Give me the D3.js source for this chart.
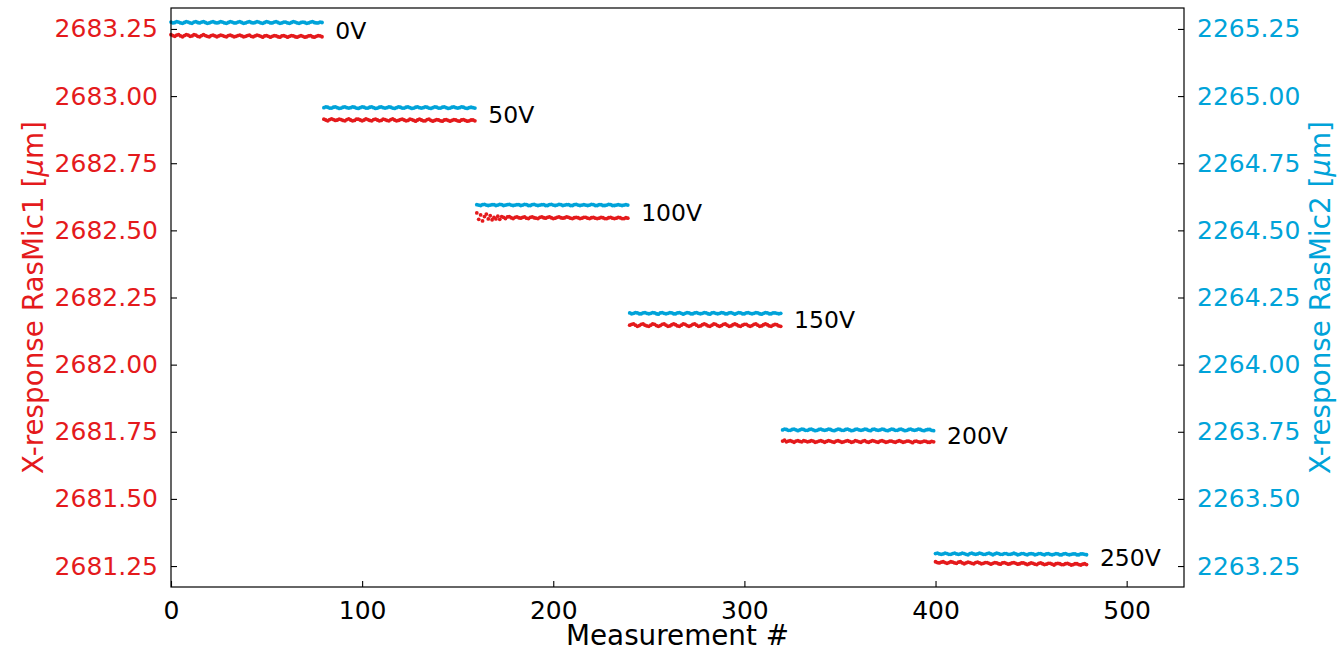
<!DOCTYPE html>
<html>
<head>
<meta charset="utf-8">
<script src="https://cdn.jsdelivr.net/npm/d3@7"></script>
<style>
  html, body { margin: 0; padding: 0; background: #ffffff; }
  svg { display: block; font-family: "DejaVu Sans", sans-serif; }
</style>
</head>
<body>
<svg id="chart" width="1339" height="653"></svg>
<script>
// ---- data ----
const voltageLabels = ["0V", "50V", "100V", "150V", "200V", "250V"];
const pointsPerStep = 80;
// mean level for each voltage step (micrometre)
const redBase  = [2683.224, 2682.911, 2682.547, 2682.147, 2681.714, 2681.260];
const blueBase = [2265.274, 2264.957, 2264.594, 2264.191, 2263.757, 2263.295];
// size of one deviation step in the arrays below (micrometre)
const devUnit = 0.0015;
// per-measurement deviations from the step level, RasMic1
const red0 = [3,1,-1,2,3,0,-2,1,3,2,-1,0,3,2,-1,-2,1,3,1,-1,-2,1,2,0,-2,0,2,1,-1,-2,1,2,0,-2,-1,1,2,0,-2,-1,1,2,-1,-2,0,2,1,-1,-3,0,1,-1,-3,-1,1,0,-2,-3,0,1,-1,-3,-1,1,0,-2,-3,-1,1,-1,-3,-2,0,1,-2,-3,-1,1,0,-2];
const red1 = [2,0,-2,1,3,1,-1,0,2,1,-1,-2,1,3,0,-2,-1,2,2,0,-2,0,3,1,-1,-2,1,2,0,-2,-1,2,1,-1,-2,1,3,0,-2,-1,1,2,0,-2,-1,2,1,-1,-3,0,2,0,-2,-2,1,2,-1,-3,-1,1,0,-2,-3,0,1,-1,-3,-1,1,0,-2,-3,0,1,-1,-3,-2,0,0,-2];
const red2 = [12,-4,7,-8,3,9,-3,5,-5,1,-3,4,-4,3,1,-2,2,3,0,-2,1,2,0,-1,1,2,-1,-2,1,2,0,-1,-2,1,2,0,-1,1,2,0,-2,-1,1,2,0,-1,0,2,1,-1,-2,0,1,0,-2,-1,1,1,-1,-2,0,1,-1,-2,-1,1,0,-2,-2,0,1,-1,-2,-1,1,0,-2,-2,0,-1];
const red3 = [0,2,3,0,-3,-1,2,3,0,-2,-3,0,3,2,-1,-3,-1,2,3,0,-3,-2,1,3,1,-2,-3,0,3,2,-1,-3,-1,2,3,0,-3,-2,1,3,1,-2,-3,0,3,2,-1,-3,-1,2,3,0,-3,-2,1,3,1,-2,-3,0,2,2,-1,-3,-1,2,3,0,-3,-2,1,3,1,-2,-3,0,2,1,-2,-3];
const red4 = [1,3,-1,1,2,0,-2,1,2,0,-1,2,1,-1,0,2,1,-2,-1,1,2,0,-2,0,2,1,-1,-2,1,2,0,-2,-1,1,2,0,-2,-1,2,1,-1,-2,1,2,-1,-2,0,2,1,-1,-2,1,2,0,-2,-1,1,1,-1,-2,0,2,0,-2,-1,1,1,-1,-3,0,1,-1,-2,-1,1,0,-2,-2,0,-1];
const red5 = [4,2,1,3,4,2,0,2,4,3,1,0,3,4,1,-1,1,3,2,0,-1,2,3,1,-1,0,2,2,0,-2,0,2,1,-1,-2,1,2,0,-2,-1,1,2,0,-2,-1,1,1,-1,-3,-1,1,0,-2,-3,0,1,-1,-3,-2,0,0,-2,-4,-1,0,-1,-3,-3,-1,0,-2,-4,-3,-1,-1,-3,-4,-2,-1,-3];
// per-measurement deviations from the step level, RasMic2
const blue0 = [1,-1,0,2,1,-1,-2,0,2,1,-1,-2,1,2,0,-1,1,2,0,-2,-1,1,2,0,-1,0,2,1,-1,-2,0,2,1,-1,-1,1,2,0,-2,-1,1,2,0,-1,0,2,1,-1,-2,0,2,1,-1,-1,1,2,0,-2,-1,1,1,-1,-2,0,2,1,-1,-2,0,1,0,-2,-1,1,2,0,-1,-1,1,0];
const blue1 = [0,2,1,-1,-1,1,2,0,-2,-1,1,2,0,-1,0,2,1,-1,-2,0,2,1,-1,-1,1,2,0,-2,-1,1,2,0,-1,0,2,1,-1,-2,0,2,1,-1,-1,1,2,0,-2,-1,1,2,0,-1,0,2,1,-1,-2,0,2,1,-1,-1,1,2,0,-2,-1,1,2,0,-1,0,2,1,-1,-2,0,1,0,-1];
const blue2 = [1,0,-1,1,2,0,-1,0,1,1,-1,0,2,1,-1,0,1,2,0,-1,0,1,1,-1,0,2,1,-1,-1,1,2,0,-1,0,1,1,-1,-1,1,2,0,-1,0,2,1,-1,0,1,1,-1,-1,1,2,0,-1,0,1,0,-1,0,2,1,-1,-1,1,1,-1,-1,0,2,1,-1,-1,0,1,0,-1,0,1,0];
const blue3 = [1,-1,0,2,1,-1,-1,1,2,0,-1,0,2,1,-1,-2,1,2,0,-1,0,2,1,-1,-1,1,2,0,-2,0,2,1,-1,-1,1,2,0,-1,0,2,1,-1,-2,1,2,0,-1,0,2,1,-1,-1,1,2,0,-2,0,2,1,-1,-1,1,2,0,-1,0,2,1,-1,-2,0,2,1,-1,-1,1,1,0,-1,0];
const blue4 = [0,2,1,-1,-1,1,2,0,-2,0,2,1,-1,-1,1,2,0,-2,-1,1,2,0,-1,0,2,1,-1,-2,0,2,1,-1,-1,1,2,0,-2,-1,1,2,0,-1,0,2,1,-1,-2,1,2,0,-1,0,2,1,-1,-2,0,2,1,-1,-1,1,2,0,-2,-1,1,2,0,-1,0,2,1,-1,-2,0,1,1,-1,-2];
const blue5 = [1,2,0,-1,0,2,1,-1,-1,1,2,0,-1,0,2,1,-1,-2,1,2,0,-1,0,2,1,-1,-1,1,2,0,-2,0,2,1,-1,-1,1,1,-1,-1,0,2,0,-2,-1,1,1,-1,-2,0,1,0,-2,-1,1,1,-1,-2,0,1,-1,-2,-1,1,0,-2,-2,0,1,-1,-2,-1,0,0,-2,-2,0,0,-1,-2];
const xTicks = [0, 100, 200, 300, 400, 500];
const leftTicks  = [2681.25, 2681.50, 2681.75, 2682.00, 2682.25, 2682.50, 2682.75, 2683.00, 2683.25];
const rightTicks = [2263.25, 2263.50, 2263.75, 2264.00, 2264.25, 2264.50, 2264.75, 2265.00, 2265.25];

const redDev  = [red0, red1, red2, red3, red4, red5];
const blueDev = [blue0, blue1, blue2, blue3, blue4, blue5];

// ---- build points ----
function build(base, dev) {
  const pts = [];
  base.forEach((b, i) => {
    dev[i].forEach((d, j) => {
      pts.push({ x: i * pointsPerStep + j, v: b + d * devUnit });
    });
  });
  return pts;
}
const redPts = build(redBase, redDev);
const bluePts = build(blueBase, blueDev);

// ---- layout ----
const RED = "#e41a1c", BLUE = "#00a3d9";
const L = 171, R = 1184, T = 8, B = 587;
const FS_TICK = 25, FS_TITLE = 27.8, FS_LBL = 23.5;
const svg = d3.select("#chart");

const x = d3.scaleLinear().domain([0, 530]).range([L, R]);
const yL = d3.scaleLinear().domain([2681.172, 2683.328]).range([B, T]);
const yR = d3.scaleLinear().domain([2263.172, 2265.328]).range([B, T]);

// axes
const gx = svg.append("g").attr("transform", `translate(0,${B})`)
  .call(d3.axisBottom(x).tickValues(xTicks).tickFormat(d3.format("d")).tickSizeInner(-6).tickSizeOuter(0).tickPadding(14));
const gl = svg.append("g").attr("transform", `translate(${L},0)`)
  .call(d3.axisLeft(yL).tickValues(leftTicks).tickFormat(d3.format(".2f")).tickSizeInner(-6).tickSizeOuter(0).tickPadding(13));
const gr = svg.append("g").attr("transform", `translate(${R},0)`)
  .call(d3.axisRight(yR).tickValues(rightTicks).tickFormat(d3.format(".2f")).tickSizeInner(-6).tickSizeOuter(0).tickPadding(13));

[gx, gl, gr].forEach(g => {
  g.select(".domain").remove();
  g.selectAll(".tick line").attr("stroke", "#000").attr("stroke-width", 1.1);
  g.selectAll(".tick text").attr("font-size", FS_TICK).attr("font-family", "DejaVu Sans");
});
gx.selectAll(".tick text").attr("fill", "#000");
gl.selectAll(".tick text").attr("fill", RED);
gr.selectAll(".tick text").attr("fill", BLUE);

// points
svg.append("g").selectAll("circle").data(bluePts).join("circle")
  .attr("cx", d => x(d.x)).attr("cy", d => yR(d.v)).attr("r", 1.9).attr("fill", BLUE);
svg.append("g").selectAll("circle").data(redPts).join("circle")
  .attr("cx", d => x(d.x)).attr("cy", d => yL(d.v)).attr("r", 1.9).attr("fill", RED);

// step labels
svg.append("g").selectAll("text").data(voltageLabels).join("text")
  .attr("x", (d, i) => x(i * pointsPerStep + pointsPerStep - 1 + 7))
  .attr("y", (d, i) => yL(d3.mean(redDev[i], v => redBase[i] + v * devUnit)) + 3)
  .attr("font-size", FS_LBL).attr("fill", "#000")
  .text(d => d);

// frame
svg.append("rect").attr("x", L).attr("y", T).attr("width", R - L).attr("height", B - T)
  .attr("fill", "none").attr("stroke", "#000").attr("stroke-width", 1.2);

// axis titles
svg.append("text").attr("x", (L + R) / 2).attr("y", 645).attr("text-anchor", "middle")
  .attr("font-size", FS_TITLE).attr("fill", "#000").text("Measurement #");

function yTitle(xPos, color, name) {
  const t = svg.append("text").attr("transform", `translate(${xPos},${(T + B) / 2}) rotate(-90)`)
    .attr("text-anchor", "middle").attr("font-size", FS_TITLE).attr("fill", color);
  t.append("tspan").text(`X-response ${name} [`);
  t.append("tspan").attr("font-style", "italic").text("μ");
  t.append("tspan").text("m]");
}
yTitle(43, RED, "RasMic1");
yTitle(1330, BLUE, "RasMic2");
</script>
</body>
</html>
